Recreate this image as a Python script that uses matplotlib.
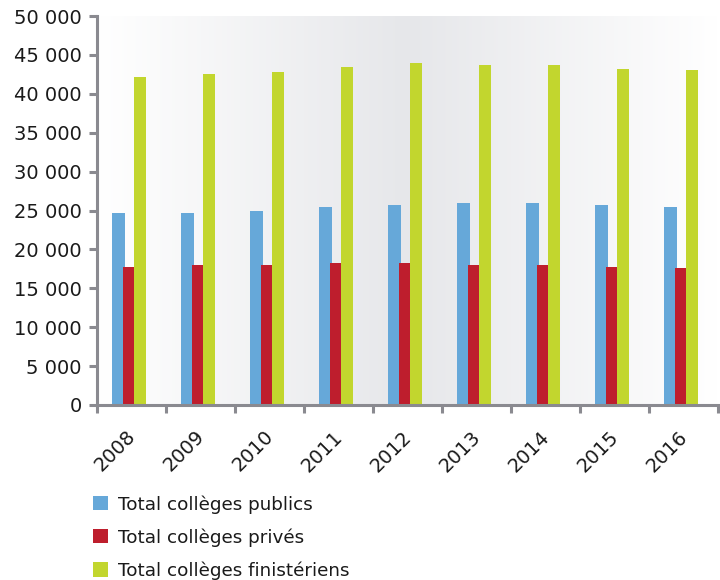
import numpy as np
import matplotlib
matplotlib.use("Agg")
import matplotlib.pyplot as plt
from matplotlib.patches import Patch
from matplotlib.ticker import FuncFormatter
from matplotlib.transforms import ScaledTranslation, blended_transform_factory

years = ["2008", "2009", "2010", "2011", "2012", "2013", "2014", "2015", "2016"]
publics = [24700, 24700, 24950, 25400, 25700, 25900, 25900, 25700, 25400]
prives = [17800, 18000, 18000, 18200, 18250, 18000, 18000, 17800, 17600]
finisteriens = [42100, 42600, 42800, 43500, 43900, 43700, 43700, 43250, 43000]
series_names = ["Total collèges publics", "Total collèges privés", "Total collèges finistériens"]
colors = ["#66a8d9", "#be1e2d", "#c2d62e"]

plt.rcParams['font.family'] = ['DejaVu Sans']

fig = plt.figure(figsize=(7.2, 5.8), dpi=100)
ax = fig.add_axes([97/720, 1-405/580, (718-97)/720, (405-16)/580])

n = len(years)
centers = np.arange(n) + 0.5

# gradient background
grad = np.linspace(-1, 1, 400)
vals = 1 - np.abs(grad)
c0 = np.array([1.0, 1.0, 1.0])
c1 = np.array([230, 231, 234]) / 255
img = c0[None, :] + (c1 - c0)[None, :] * vals[:, None]
ax.imshow(img[None, :, :], extent=[0, n, 0, 50000], aspect='auto', zorder=0)

widths = [0.18, 0.155, 0.18]
offsets = [-0.19, -0.045, 0.125]
for vals_s, off, wd, col, name in zip([publics, prives, finisteriens], offsets, widths, colors, series_names):
    ax.bar(centers + off, vals_s, width=wd, color=col, zorder=2, label=name)

ax.set_xlim(0, n)
ax.set_ylim(0, 50000)

spine_col = "#8a8a90"
for s in ["top", "right"]:
    ax.spines[s].set_visible(False)
for s in ["left", "bottom"]:
    ax.spines[s].set_color(spine_col)
    ax.spines[s].set_linewidth(2.2)
    ax.spines[s].set_zorder(3)

ax.set_yticks(np.arange(0, 50001, 5000))
ax.yaxis.set_major_formatter(FuncFormatter(lambda v, p: f"{int(v):,}".replace(",", " ")))
ax.tick_params(axis='y', length=6, width=2.2, color=spine_col, labelsize=14, labelcolor="#1a1a1a", pad=5)

ax.set_xticks(np.arange(0, n + 1))
ax.set_xticklabels([])
ax.tick_params(axis='x', which='major', length=6, width=2.2, color=spine_col)

trans = blended_transform_factory(ax.transData, ax.transAxes) + ScaledTranslation(8/100, -22/100, fig.dpi_scale_trans)
for c, y in zip(centers, years):
    ax.text(c, 0, y, transform=trans, rotation=45, ha='right', va='top',
            fontsize=14, color="#1a1a1a", clip_on=False)

handles = [Patch(facecolor=c, edgecolor='none') for c in colors]
leg = fig.legend(handles, series_names, loc='upper left', bbox_to_anchor=(93/720, 1-495/580),
                 frameon=False, fontsize=13.2, handlelength=0.82, handleheight=0.82,
                 handletextpad=0.55, labelspacing=0.8, borderpad=0, borderaxespad=0)
for t in leg.get_texts():
    t.set_color("#1a1a1a")

fig.savefig("out.png", dpi=100)
